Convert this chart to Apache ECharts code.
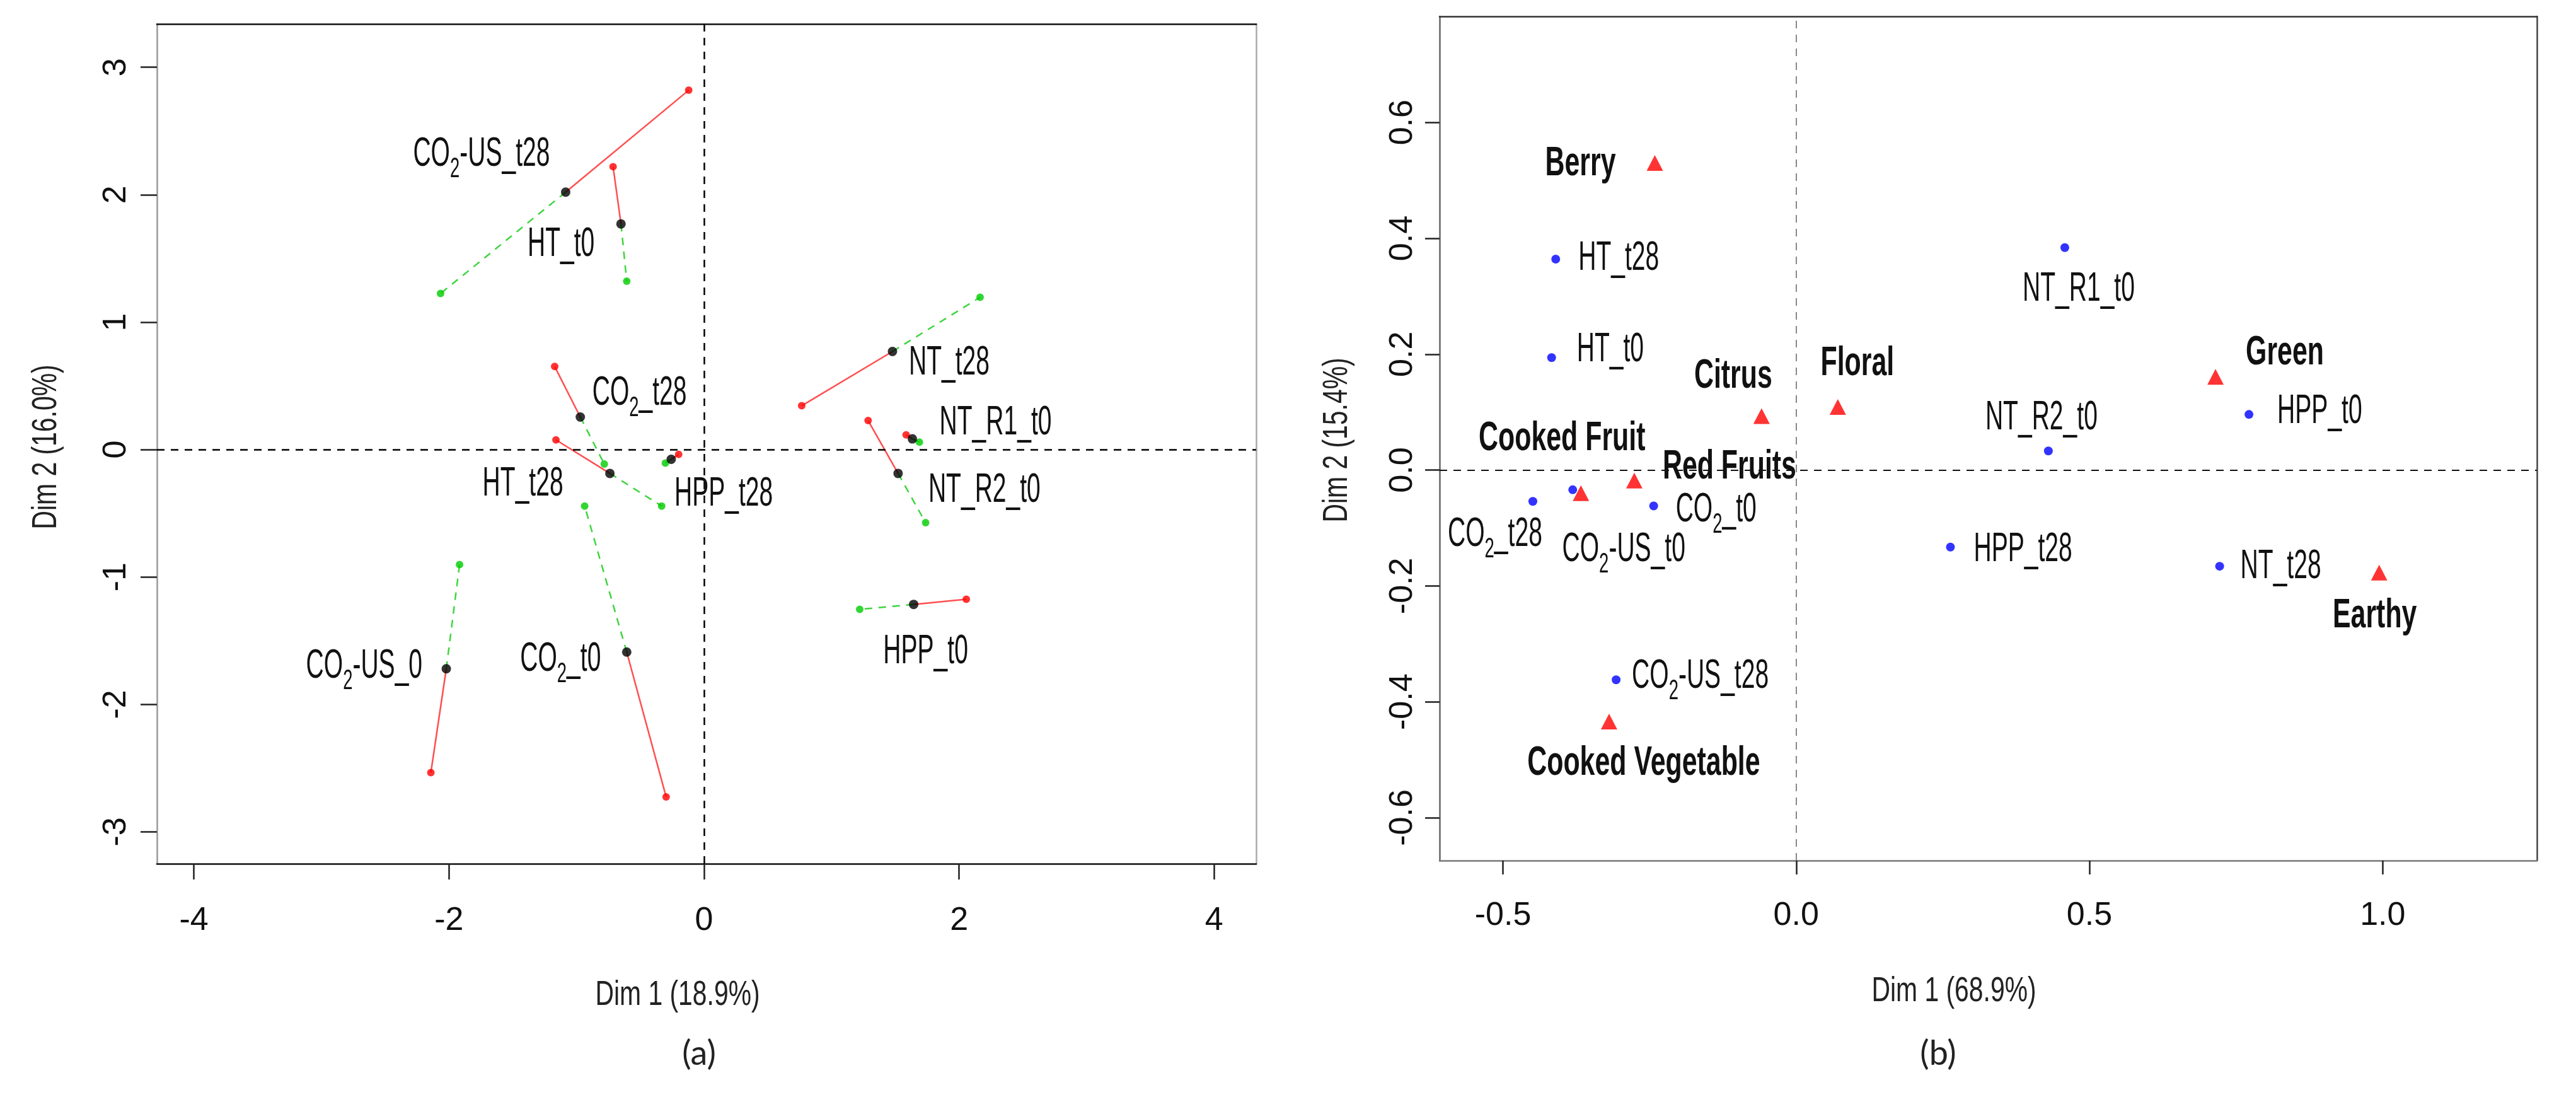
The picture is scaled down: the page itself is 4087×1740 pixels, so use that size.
<!DOCTYPE html>
<html>
<head>
<meta charset="utf-8">
<script src="https://cdn.jsdelivr.net/npm/echarts@6/dist/echarts.min.js"></script>
<style>
html, body { margin: 0; padding: 0; background: #fff; }
#main { width: 4087px; height: 1740px; }
</style>
</head>
<body>
<div id="main"></div>
<script>
// (a) individuals with partial points (red = group 1, green = group 2)
var namesA = ['CO2-US_t28', 'HT_t0', 'CO2_t28', 'HT_t28', 'HPP_t28', 'NT_t28', 'NT_R1_t0', 'NT_R2_t0', 'HPP_t0', 'CO2_t0', 'CO2-US_0'];
var centerX = [-1.085, -0.651, -0.970, -0.738, -0.257, 1.478, 1.634, 1.522, 1.644, -0.606, -2.021];
var centerY = [2.020, 1.771, 0.255, -0.187, -0.076, 0.770, 0.084, -0.187, -1.215, -1.589, -1.720];
var redX = [-0.120, -0.713, -1.171, -1.161, -0.199, 0.766, 1.585, 1.287, 2.057, -0.297, -2.142];
var redY = [2.820, 2.220, 0.652, 0.076, -0.038, 0.344, 0.116, 0.228, -1.175, -2.725, -2.535];
var greenX = [-2.066, -0.606, -0.782, -0.332, -0.303, 2.165, 1.689, 1.738, 1.221, -0.936, -1.917];
var greenY = [1.225, 1.321, -0.113, -0.443, -0.106, 1.195, 0.058, -0.574, -1.254, -0.443, -0.903];
var ticksAX = [-4, -2, 0, 2, 4];
var ticksAY = [-3, -2, -1, 0, 1, 2, 3];

// (b) samples and sensory attributes
var namesB = ['HT_t28', 'HT_t0', 'NT_R1_t0', 'NT_R2_t0', 'HPP_t0', 'CO2_t28', 'CO2-US_t0', 'CO2_t0', 'HPP_t28', 'NT_t28', 'CO2-US_t28'];
var sampleX = [-0.410, -0.417, 0.458, 0.430, 0.772, -0.449, -0.381, -0.243, 0.263, 0.722, -0.307];
var sampleY = [0.364, 0.194, 0.384, 0.033, 0.096, -0.054, -0.034, -0.062, -0.133, -0.166, -0.362];
var attributes = ['Berry', 'Citrus', 'Floral', 'Cooked Fruit', 'Red Fruits', 'Green', 'Earthy', 'Cooked Vegetable'];
var attrX = [-0.241, -0.059, 0.071, -0.367, -0.276, 0.715, 0.994, -0.319];
var attrY = [0.530, 0.093, 0.109, -0.040, -0.018, 0.161, -0.177, -0.434];
var ticksBX = [-0.5, 0, 0.5, 1.0];
var ticksBY = [-0.6, -0.4, -0.2, 0, 0.2, 0.4, 0.6];

// label placement: [align, dx, dy] from the point
var labelA = {
  'CO2-US_t28': ['right', -25, -59], 'HT_t0': ['right', -42, 33], 'CO2_t28': ['left', 19, -37],
  'HT_t28': ['right', -74, 17], 'HPP_t28': ['left', 5, 56], 'NT_t28': ['left', 26, 19],
  'NT_R1_t0': ['left', 43, -25], 'NT_R2_t0': ['left', 48, 27], 'HPP_t0': ['center', 19, 76],
  'CO2_t0': ['right', -41, 12], 'CO2-US_0': ['right', -38, -3]
};
var labelB = {
  'HT_t28': ['left', 36, -1], 'HT_t0': ['left', 40, -12], 'NT_R1_t0': ['center', 22, 67],
  'NT_R2_t0': ['center', -11, -52], 'HPP_t0': ['left', 45, -4], 'CO2_t28': ['center', -60, 53],
  'CO2-US_t0': ['center', 81, 96], 'CO2_t0': ['left', 35, 7], 'HPP_t28': ['left', 37, 5],
  'NT_t28': ['left', 33, 1], 'CO2-US_t28': ['left', 25, -5],
  'Berry': ['right', -62, 2], 'Citrus': ['center', -45, -63], 'Floral': ['center', 31, -68],
  'Cooked Fruit': ['center', -30, -86], 'Red Fruits': ['left', 45, -21], 'Green': ['left', 48, -37],
  'Earthy': ['center', -7, 69], 'Cooked Vegetable': ['center', 55, 67]
};

var sans = '"Liberation Sans", Arial, sans-serif';

var richLab = {
  n: { fontFamily: sans, fontSize: 64, lineHeight: 72, fill: '#111' },
  s: { fontFamily: sans, fontSize: 45, lineHeight: 72, fill: '#111', padding: [46, 0, 0, 0] }
};

function richName(name) {
  if (name.indexOf('CO2') === 0) {
    return '{n|CO}{s|2}{n|' + name.slice(3) + '}';
  }
  return '{n|' + name + '}';
}

function segData(xs0, ys0, xs1, ys1) {
  return xs0.map(function (x, i) {
    return { coords: [[x, ys0[i]], [xs1[i], ys1[i]]] };
  });
}

function pairs(xs, ys) {
  return xs.map(function (x, i) { return [x, ys[i]]; });
}

// condensed text labels placed through the axes of the grid
function labelSeries(xi, yi, names, xs, ys, layout, bold) {
  return {
    type: 'custom', xAxisIndex: xi, yAxisIndex: yi, silent: true, clip: false, z: 10,
    data: names.map(function (n, i) { return [xs[i], ys[i], i]; }),
    encode: { x: 0, y: 1 },
    renderItem: function (params, api) {
      var n = names[api.value(2)];
      var p = layout[n];
      var pt = api.coord([api.value(0), api.value(1)]);
      var style = bold
        ? { text: n, fontFamily: sans, fontSize: 64, fontWeight: 'bold', fill: '#111' }
        : { text: richName(n), rich: richLab, fontFamily: sans, fontSize: 64, fill: '#111' };
      style.align = p[0];
      style.verticalAlign = 'middle';
      return {
        type: 'text', x: pt[0] + p[1], y: pt[1] + p[2],
        scaleX: bold ? 0.67 : 0.61,
        style: style
      };
    }
  };
}

function mainAxis(grid, pos, min, max, ticks, fmt, lineColor, tickLen, margin, rotate) {
  return {
    type: 'value', gridIndex: grid, position: pos, min: min, max: max,
    axisLine: { show: true, onZero: false, lineStyle: { color: lineColor, width: 2.5 } },
    axisTick: { show: true, inside: false, length: tickLen, customValues: ticks, lineStyle: { color: '#222', width: 2.5 } },
    axisLabel: {
      show: true, customValues: ticks, margin: margin, rotate: rotate,
      fontFamily: sans, fontSize: 52, color: '#111', formatter: fmt
    },
    splitLine: { show: false }
  };
}

function frameAxis(grid, pos, min, max, lineColor) {
  return {
    type: 'value', gridIndex: grid, position: pos, min: min, max: max,
    axisLine: { show: true, onZero: false, lineStyle: { color: lineColor, width: 2.5 } },
    axisTick: { show: false }, axisLabel: { show: false }, splitLine: { show: false }
  };
}

function title(text, x, y, rot) {
  return {
    type: 'text', x: x, y: y, rotation: rot, scaleX: 0.73,
    style: { text: text, fontFamily: sans, fontSize: 56, fill: '#222', align: 'center', verticalAlign: 'middle' }
  };
}

var fmtInt = function (v) { return String(v); };
var fmtOne = function (v) { return Number(v).toFixed(1); };

var option = {
  backgroundColor: '#fff',
  animation: false,
  grid: [
    { left: 249, top: 38, width: 1744, height: 1332 },
    { left: 2284, top: 26, width: 1741, height: 1339 }
  ],
  xAxis: [
    mainAxis(0, 'bottom', -4.29, 4.33, ticksAX, fmtInt, '#111', 25, 65, 0),
    frameAxis(0, 'top', -4.29, 4.33, '#111'),
    mainAxis(1, 'bottom', -0.608, 1.263, ticksBX, fmtOne, '#777', 22, 62, 0),
    frameAxis(1, 'top', -0.608, 1.263, '#333')
  ],
  yAxis: [
    mainAxis(0, 'left', -3.25, 3.34, ticksAY, fmtInt, '#999', 26, 38, 90),
    frameAxis(0, 'right', -3.25, 3.34, '#aaa'),
    mainAxis(1, 'left', -0.674, 0.783, ticksBY, fmtOne, '#666', 23, 32, 90),
    frameAxis(1, 'right', -0.674, 0.783, '#444')
  ],
  graphic: [
    title('Dim 1 (18.9%)', 1075, 1579, 0),
    title('Dim 2 (16.0%)', 74, 709, Math.PI / 2),
    title('Dim 1 (68.9%)', 3100, 1573, 0),
    title('Dim 2 (15.4%)', 2122, 698, Math.PI / 2),
    { type: 'text', x: 1109, y: 1672, style: { text: '(a)', fontFamily: 'Lato, "Open Sans", sans-serif', fontSize: 54, fill: '#222', align: 'center', verticalAlign: 'middle' } },
    { type: 'text', x: 3075, y: 1672, style: { text: '(b)', fontFamily: 'Lato, "Open Sans", sans-serif', fontSize: 54, fill: '#222', align: 'center', verticalAlign: 'middle' } }
  ],
  series: [
    // (a)
    {
      type: 'lines', coordinateSystem: 'cartesian2d', xAxisIndex: 0, yAxisIndex: 0, silent: true, z: 2,
      lineStyle: { color: '#ff4f4f', width: 2.5, opacity: 1, type: 'solid', curveness: 0 },
      data: segData(centerX, centerY, redX, redY)
    },
    {
      type: 'lines', coordinateSystem: 'cartesian2d', xAxisIndex: 0, yAxisIndex: 0, silent: true, z: 2,
      lineStyle: { color: '#3fd43f', width: 2.5, opacity: 1, type: [12, 10], curveness: 0 },
      data: segData(centerX, centerY, greenX, greenY)
    },
    {
      type: 'scatter', xAxisIndex: 0, yAxisIndex: 0, silent: true, z: 3,
      symbol: 'circle', symbolSize: 12, itemStyle: { color: '#ff0000' },
      data: pairs(redX, redY),
      markLine: {
        silent: true, symbol: 'none', label: { show: false },
        lineStyle: { color: '#000', width: 2.5, type: [12, 10] },
        data: [{ xAxis: 0 }, { yAxis: 0 }]
      }
    },
    {
      type: 'scatter', xAxisIndex: 0, yAxisIndex: 0, silent: true, z: 3,
      symbol: 'circle', symbolSize: 12, itemStyle: { color: '#00cc00' },
      data: pairs(greenX, greenY)
    },
    {
      type: 'scatter', xAxisIndex: 0, yAxisIndex: 0, silent: true, z: 4,
      symbol: 'circle', symbolSize: 15, itemStyle: { color: '#000' },
      data: pairs(centerX, centerY)
    },
    labelSeries(0, 0, namesA, centerX, centerY, labelA, false),
    // (b)
    {
      type: 'scatter', xAxisIndex: 2, yAxisIndex: 2, silent: true, z: 3,
      symbol: 'circle', symbolSize: 14, itemStyle: { color: '#0000ff' },
      data: pairs(sampleX, sampleY),
      markLine: {
        silent: true, symbol: 'none', label: { show: false },
        data: [
          { xAxis: 0, lineStyle: { color: '#888', width: 2, type: [12, 10] } },
          { yAxis: 0, lineStyle: { color: '#111', width: 2, type: [12, 10] } }
        ]
      }
    },
    {
      type: 'scatter', xAxisIndex: 2, yAxisIndex: 2, silent: true, z: 3,
      symbol: 'triangle', symbolSize: [26, 25], itemStyle: { color: '#ff0000' },
      data: pairs(attrX, attrY)
    },
    labelSeries(2, 2, namesB, sampleX, sampleY, labelB, false),
    labelSeries(2, 2, attributes, attrX, attrY, labelB, true)
  ]
};

var myChart = echarts.init(document.getElementById('main'), null, { renderer: 'canvas' });
myChart.setOption(option);

window.addEventListener('resize', function () {
  myChart.resize();
});
</script>
</body>
</html>
